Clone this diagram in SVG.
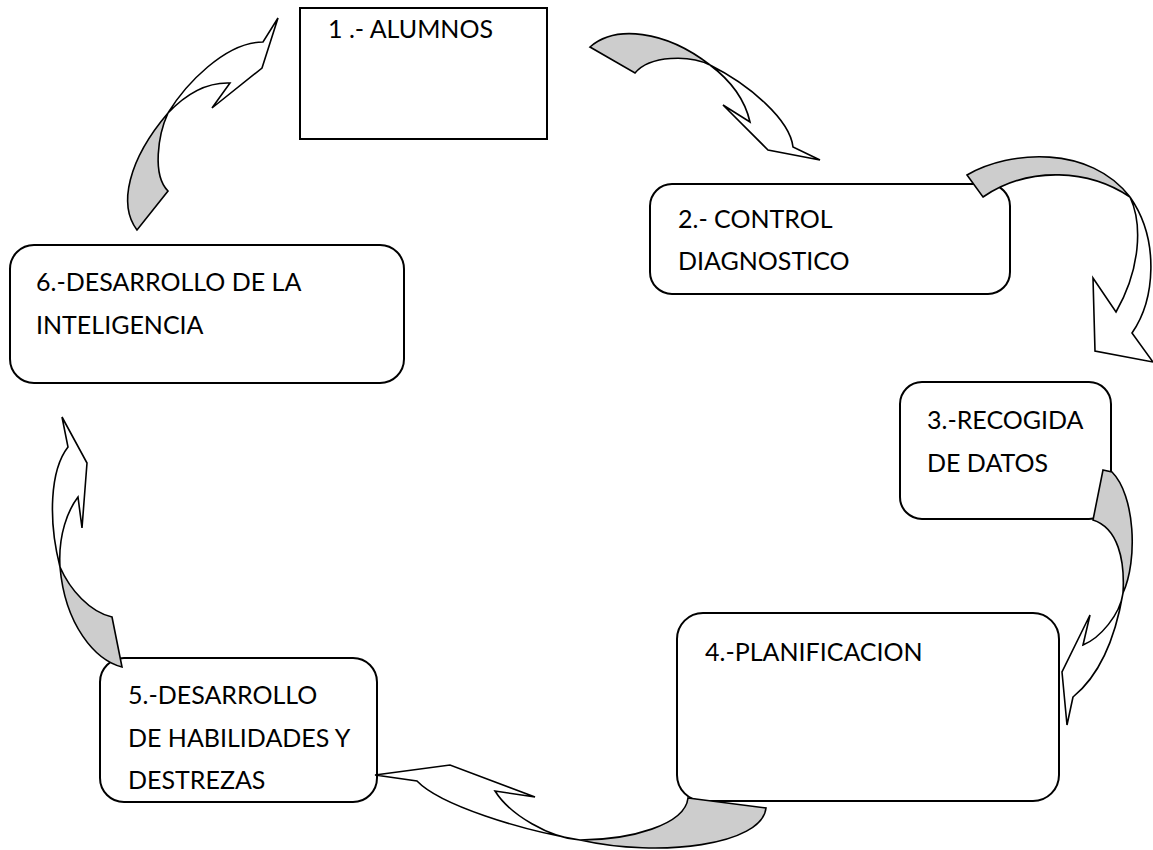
<svg xmlns="http://www.w3.org/2000/svg" width="1153" height="850" viewBox="0 0 1153 850">
<style>
.box{fill:#fff;stroke:#000;stroke-width:2}
.t{font-family:Lato,"Liberation Sans",sans-serif;font-size:25px;fill:#000}
.g{fill:#cdcdcd;stroke:#000;stroke-width:1.6;stroke-linejoin:miter}
.w{fill:#fff;stroke:#000;stroke-width:1.6;stroke-linejoin:miter}
</style>
<rect width="1153" height="850" fill="#fff"/>
<g id="node1"><rect class="box" x="300" y="8" width="247" height="131"/><text class="t" x="328" y="38">1 .- ALUMNOS</text></g>
<g id="node2"><rect class="box" x="650" y="184" width="360" height="110" rx="22"/><text class="t" x="678" y="228">2.- CONTROL</text><text class="t" x="678" y="270">DIAGNOSTICO</text></g>
<g id="node3"><rect class="box" x="900" y="382" width="211" height="137" rx="22"/><text class="t" x="927" y="429">3.-RECOGIDA</text><text class="t" x="927" y="472">DE DATOS</text></g>
<g id="node4"><rect class="box" x="677" y="613" width="382" height="188" rx="26"/><text class="t" x="705" y="661">4.-PLANIFICACION</text></g>
<g id="node5"><rect class="box" x="100" y="658" width="277" height="144" rx="24"/><text class="t" x="128" y="704">5.-DESARROLLO</text><text class="t" x="128" y="747">DE HABILIDADES Y</text><text class="t" x="128" y="789">DESTREZAS</text></g>
<g id="node6"><rect class="box" x="10" y="245" width="394" height="138" rx="24"/><text class="t" x="36" y="291">6.-DESARROLLO DE LA</text><text class="t" x="36" y="334">INTELIGENCIA</text></g>
<g id="connectors">
<g id="arrow6to1"><path class="g" d="M137,230 C118,205 128,160 168,113 C158,135 152,175 168,191 Z"/><path class="w" d="M168,113 C185,85 225,42 263,42 L278,18 L262,68 L212,108 L230,83 C205,82 185,95 168,113 Z"/></g>
<g id="arrow1to2"><path class="g" d="M590,47 C615,25 665,30 710,65 C690,55 650,55 635,73 Z"/><path class="w" d="M710,65 C750,85 790,120 793,147 L820,160 L768,150 L723,105 L750,122 C745,100 730,80 710,65 Z"/></g>
<g id="arrow2to3"><path class="g" d="M967,175 C1010,150 1090,145 1130,197 C1090,170 1030,165 983,197 Z"/><path class="w" d="M1130,197 C1160,240 1155,300 1132,333 L1153,362 L1095,351 L1093,278 L1116,312 C1140,270 1143,225 1130,197 Z"/></g>
<g id="arrow3to4"><path class="g" d="M1103,470 L1112,472 C1135,495 1138,560 1123,593 C1125,560 1118,528 1093,520 Z"/><path class="w" d="M1123,593 C1115,640 1100,675 1073,697 L1067,725 L1062,672 L1090,615 L1083,645 C1100,638 1120,615 1123,593 Z"/></g>
<g id="arrow4to5"><path class="g" d="M688,798 L766,808 C762,845 660,858 580,840 C630,840 685,825 688,798 Z"/><path class="w" d="M580,840 C520,830 440,805 417,781 L375,775 L450,765 L535,797 L495,791 C510,815 550,838 580,840 Z"/></g>
<g id="arrow5to6"><path class="g" d="M112,617 L122,667 C95,660 65,625 60,567 C70,590 90,612 112,617 Z"/><path class="w" d="M60,567 C48,520 50,470 68,447 L62,417 L87,463 L82,528 L78,497 C68,510 58,535 60,567 Z"/></g>
</g>
</svg>
